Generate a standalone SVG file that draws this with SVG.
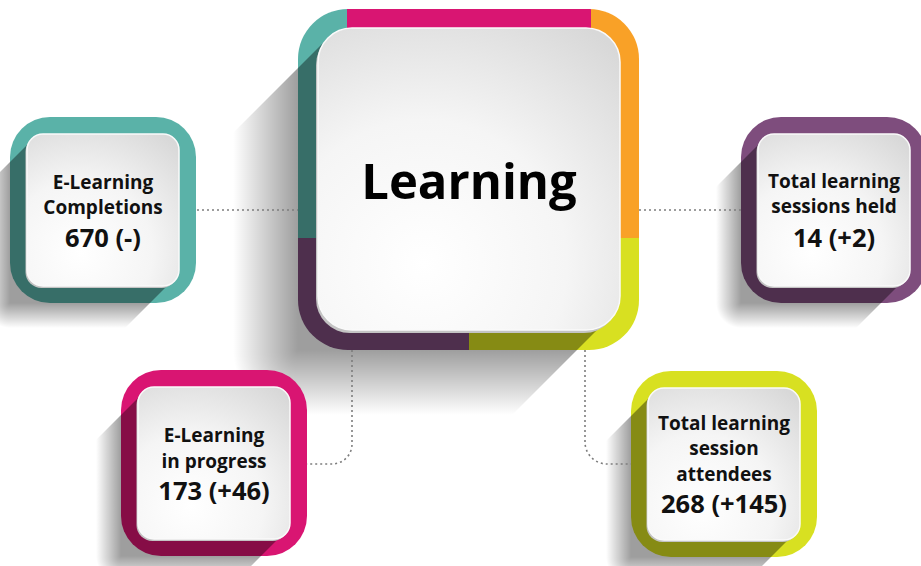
<svg xmlns="http://www.w3.org/2000/svg" width="921" height="566" viewBox="0 0 921 566">
<style>
.lbl{font-family:"Open Sans","Noto Sans","Liberation Sans",sans-serif;font-weight:700;font-size:19px;fill:#111;text-anchor:middle}
.num{font-size:25.5px}
.title{font-size:49px;fill:#000}
.conn{fill:none;stroke:#7d7d7d;stroke-width:1.6;stroke-dasharray:2 3}
.sh{fill:#000;fill-opacity:.38}
.bevel{fill:#c4c4c4}
.tile{fill:url(#tile);stroke:#fafafa;stroke-width:1.5}
.teal{fill:#5AB2A8}.mag{fill:#D91572}.org{fill:#F9A127}.pur{fill:#7E4D7D}.yg{fill:#D8E021}
</style>
<defs>
<linearGradient id="fadeL" x1="1" y1="0" x2="0" y2="0"><stop offset="0" stop-color="#000" stop-opacity=".38"/><stop offset="1" stop-color="#000" stop-opacity="0"/></linearGradient>
<linearGradient id="fadeB" x1="0" y1="0" x2="0" y2="1"><stop offset="0" stop-color="#000" stop-opacity=".38"/><stop offset="1" stop-color="#000" stop-opacity="0"/></linearGradient>
<radialGradient id="fadeC" cx="1" cy="0" r="1" fx="1" fy="0"><stop offset="0" stop-color="#000" stop-opacity=".38"/><stop offset="1" stop-color="#000" stop-opacity="0"/></radialGradient>
<radialGradient id="tile" cx="0.35" cy="0.78" r="0.95"><stop offset="0" stop-color="#fff"/><stop offset=".5" stop-color="#f5f5f5"/><stop offset="1" stop-color="#d8d8d8"/></radialGradient>
<clipPath id="cFrame"><rect x="298" y="9" width="341" height="341" rx="50"/></clipPath>
<clipPath id="cShadow"><polygon points="328,38 28,338 309,618 609,318 345,312"/></clipPath>
<clipPath id="sShadow"><polygon points="22,23 -128,173 13,313 163,163 32,156"/></clipPath>
</defs>

<g id="node-learning">
  <g clip-path="url(#cFrame)">
    <rect class="teal" x="298" y="9" width="49" height="229"/>
    <rect class="mag" x="347" y="9" width="244" height="229"/>
    <rect class="org" x="591" y="9" width="48" height="229"/>
    <rect class="pur" x="298" y="238" width="171" height="112"/>
    <rect class="yg" x="469" y="238" width="170" height="112"/>
  </g>
  <g clip-path="url(#cShadow)">
    <rect class="sh" x="298" y="9" width="341" height="341"/>
    <rect x="233" y="9" width="65" height="341" fill="url(#fadeL)"/>
    <rect x="298" y="350" width="341" height="65" fill="url(#fadeB)"/>
    <rect x="233" y="350" width="65" height="65" fill="url(#fadeC)"/>
  </g>
  <rect class="bevel" x="316" y="31" width="302" height="302" rx="34"/>
  <rect class="tile" x="318" y="28" width="302" height="302" rx="34"/>
  <text class="lbl title" x="469" y="199">Learning</text>
</g>

<g id="node-elearning-completions" transform="translate(10,117)">
  <rect class="teal" width="186" height="186" rx="40"/>
  <g clip-path="url(#sShadow)">
    <rect class="sh" width="186" height="186"/>
    <rect x="-25" y="0" width="25" height="186" fill="url(#fadeL)"/>
    <rect x="0" y="186" width="186" height="25" fill="url(#fadeB)"/>
    <rect x="-25" y="186" width="25" height="25" fill="url(#fadeC)"/>
  </g>
  <rect class="bevel" x="15.5" y="19" width="152" height="152" rx="16"/>
  <rect class="tile" x="17" y="17" width="152" height="152" rx="16"/>
  <text class="lbl" x="93" y="72">E-Learning</text>
  <text class="lbl" x="93" y="97">Completions</text>
  <text class="lbl num" x="93" y="130">670 (-)</text>
</g>

<g id="node-sessions-held" transform="translate(741,117)">
  <rect class="pur" width="186" height="186" rx="40"/>
  <g clip-path="url(#sShadow)">
    <rect class="sh" width="186" height="186"/>
    <rect x="-25" y="0" width="25" height="186" fill="url(#fadeL)"/>
    <rect x="0" y="186" width="186" height="25" fill="url(#fadeB)"/>
    <rect x="-25" y="186" width="25" height="25" fill="url(#fadeC)"/>
  </g>
  <rect class="bevel" x="15.5" y="19" width="152" height="152" rx="16"/>
  <rect class="tile" x="17" y="17" width="152" height="152" rx="16"/>
  <text class="lbl" x="93" y="71">Total learning</text>
  <text class="lbl" x="93" y="96">sessions held</text>
  <text class="lbl num" x="93" y="130">14 (+2)</text>
</g>

<g id="node-elearning-progress" transform="translate(121,370)">
  <rect class="mag" width="186" height="186" rx="40"/>
  <g clip-path="url(#sShadow)">
    <rect class="sh" width="186" height="186"/>
    <rect x="-25" y="0" width="25" height="186" fill="url(#fadeL)"/>
    <rect x="0" y="186" width="186" height="25" fill="url(#fadeB)"/>
    <rect x="-25" y="186" width="25" height="25" fill="url(#fadeC)"/>
  </g>
  <rect class="bevel" x="15.5" y="19" width="152" height="152" rx="16"/>
  <rect class="tile" x="17" y="17" width="152" height="152" rx="16"/>
  <text class="lbl" x="93" y="72">E-Learning</text>
  <text class="lbl" x="93" y="98">in progress</text>
  <text class="lbl num" x="93" y="130">173 (+46)</text>
</g>

<g id="node-session-attendees" transform="translate(631,371)">
  <rect class="yg" width="186" height="186" rx="40"/>
  <g clip-path="url(#sShadow)">
    <rect class="sh" width="186" height="186"/>
    <rect x="-25" y="0" width="25" height="186" fill="url(#fadeL)"/>
    <rect x="0" y="186" width="186" height="25" fill="url(#fadeB)"/>
    <rect x="-25" y="186" width="25" height="25" fill="url(#fadeC)"/>
  </g>
  <rect class="bevel" x="15.5" y="19" width="152" height="152" rx="16"/>
  <rect class="tile" x="17" y="17" width="152" height="152" rx="16"/>
  <text class="lbl" x="93" y="59">Total learning</text>
  <text class="lbl" x="93" y="84">session</text>
  <text class="lbl" x="93" y="110">attendees</text>
  <text class="lbl num" x="93" y="142">268 (+145)</text>
</g>

<g id="connectors">
  <path class="conn" d="M197 210 H298"/>
  <path class="conn" d="M639 210 H741"/>
  <path class="conn" d="M352 350 V444 A20 20 0 0 1 332 464 H307"/>
  <path class="conn" d="M585 350 V442 A22 22 0 0 0 607 464 H631"/>
</g>
</svg>
